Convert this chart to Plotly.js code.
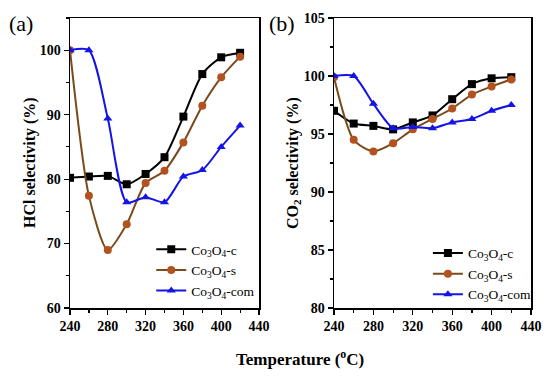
<!DOCTYPE html>
<html>
<head>
<meta charset="utf-8">
<script src="https://cdn.plot.ly/plotly-3.0.1.min.js"></script>
<style>html,body{margin:0;padding:0;background:#fff;}#chart{width:550px;height:377px;}</style>
</head>
<body>
<div id="chart"></div>
<script>
// Temperatures (°C)
const temperature = [240, 260, 280, 300, 320, 340, 360, 380, 400, 420];

// (a) HCl selectivity (%)
const hclC   = [80.2, 80.4, 80.5, 79.2, 80.8, 83.4, 89.7, 96.3, 98.9, 99.6];
const hclS   = [100.0, 77.4, 69.0, 73.0, 79.4, 81.3, 85.7, 91.4, 95.8, 99.0];
const hclCom = [100.0, 100.0, 89.4, 76.4, 77.2, 76.4, 80.4, 81.4, 85.0, 88.3];

// (b) CO2 selectivity (%)
const co2C   = [97.0, 95.9, 95.7, 95.4, 96.0, 96.6, 98.0, 99.3, 99.8, 99.9];
const co2S   = [99.9, 94.5, 93.5, 94.2, 95.4, 96.3, 97.2, 98.4, 99.1, 99.7];
const co2Com = [100.0, 100.0, 97.6, 95.5, 95.6, 95.5, 96.0, 96.3, 97.0, 97.5];

const seriesNames = ['Co<sub>3</sub>O<sub>4</sub>-c', 'Co<sub>3</sub>O<sub>4</sub>-s', 'Co<sub>3</sub>O<sub>4</sub>-com'];

const serif = '"Times New Roman", "Liberation Serif", Times, serif';
const styles = [
  {line: '#000000', marker: '#000000', symbol: 'square'},
  {line: '#7a4a1c', marker: '#b4521f', symbol: 'circle'},
  {line: '#1414e6', marker: '#1414e6', symbol: 'triangle-up'}
];

function mk(y, i, xa, ya, leg) {
  return {
    x: temperature, y: y, name: seriesNames[i],
    xaxis: xa, yaxis: ya, legend: leg,
    mode: 'lines+markers', type: 'scatter',
    line: {color: styles[i].line, width: 2, shape: 'spline', smoothing: 0.7},
    marker: {color: styles[i].marker, symbol: styles[i].symbol, size: 8}
  };
}

const data = [
  mk(hclC, 0, 'x', 'y', 'legend'),
  mk(hclS, 1, 'x', 'y', 'legend'),
  mk(hclCom, 2, 'x', 'y', 'legend'),
  mk(co2C, 0, 'x2', 'y2', 'legend2'),
  mk(co2S, 1, 'x2', 'y2', 'legend2'),
  mk(co2Com, 2, 'x2', 'y2', 'legend2')
];

const tickfont = {family: serif, size: 14, color: '#000', weight: 'bold'};
function xax(dom, anchor) {
  return {
    domain: dom, anchor: anchor, range: [240, 440], tickvals: [240, 280, 320, 360, 400, 440],
    ticks: 'outside', ticklen: 5, tickwidth: 1.2, tickcolor: '#000',
    minor: {dtick: 20, ticks: 'outside', ticklen: 3, tickcolor: '#000'},
    showline: true, linecolor: '#000', linewidth: 1.5, mirror: true,
    showgrid: false, zeroline: false, tickfont: tickfont, fixedrange: true
  };
}
function yax(range, dtick, anchor) {
  return {
    anchor: anchor, range: range, dtick: dtick,
    ticks: 'outside', ticklen: 5, tickwidth: 1.2, tickcolor: '#000',
    minor: {dtick: dtick / 2, ticks: 'outside', ticklen: 3, tickcolor: '#000'},
    showline: true, linecolor: '#000', linewidth: 1.5, mirror: true,
    showgrid: false, zeroline: false, tickfont: tickfont, fixedrange: true
  };
}

const ya = yax([60, 105], 10, 'x');
ya.tickvals = [60, 70, 80, 90, 100];
const yb = yax([80, 105], 5, 'x2');

const legFont = {family: serif, size: 13.5, color: '#000'};

const layout = {
  width: 550, height: 377,
  margin: {l: 0, r: 0, t: 18, b: 69},
  paper_bgcolor: '#fff', plot_bgcolor: '#fff',
  font: {family: serif, color: '#000'},
  xaxis: xax([70 / 550, 259 / 550], 'y'),
  yaxis: ya,
  xaxis2: xax([334 / 550, 531 / 550], 'y2'),
  yaxis2: yb,
  legend: {x: 0.275, y: 0.255, xanchor: 'left', yanchor: 'top', bgcolor: 'rgba(0,0,0,0)',
           font: legFont, tracegroupgap: 0},
  legend2: {x: 0.778, y: 0.242, xanchor: 'left', yanchor: 'top', bgcolor: 'rgba(0,0,0,0)',
            font: legFont, tracegroupgap: 0},
  annotations: [
    {text: '(a)', xref: 'paper', yref: 'paper', x: 21 / 550, y: (308 - 23) / 290, showarrow: false,
     xanchor: 'center', yanchor: 'middle', font: {family: serif, size: 22, color: '#000'}},
    {text: '(b)', xref: 'paper', yref: 'paper', x: 282 / 550, y: (308 - 23) / 290, showarrow: false,
     xanchor: 'center', yanchor: 'middle', font: {family: serif, size: 22, color: '#000'}},
    {text: '<b>HCl selectivity (%)</b>', xref: 'paper', yref: 'paper', x: 30 / 550, y: 0.5, textangle: -90,
     showarrow: false, xanchor: 'center', yanchor: 'middle', font: {family: serif, size: 16, color: '#000'}},
    {text: '<b>CO<sub>2</sub> selectivity (%)</b>', xref: 'paper', yref: 'paper', x: 293 / 550, y: 0.5, textangle: -90,
     showarrow: false, xanchor: 'center', yanchor: 'middle', font: {family: serif, size: 16, color: '#000'}},
    {text: '<b>Temperature (<sup>o</sup>C)</b>', xref: 'paper', yref: 'paper', x: 300 / 550, y: (308 - 358) / 290,
     showarrow: false, xanchor: 'center', yanchor: 'middle', font: {family: serif, size: 17, color: '#000'}}
  ]
};

Plotly.newPlot('chart', data, layout, {staticPlot: true, displayModeBar: false});
</script>
</body>
</html>
